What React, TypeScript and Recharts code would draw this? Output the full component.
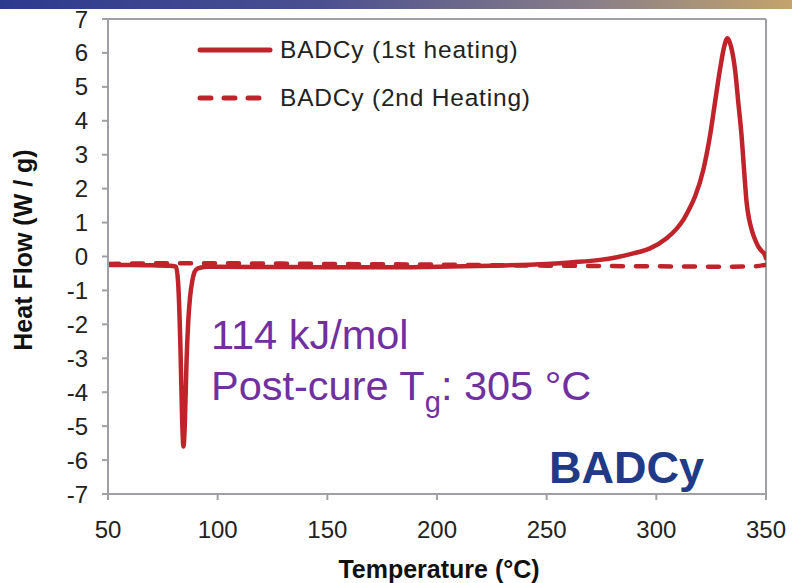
import { Line, LineChart, ReferenceLine, XAxis, YAxis } from "recharts";

const temps1 = [
  50, 60, 70, 78, 81, 82, 83, 83.8, 84.4, 85, 85.8, 86.6, 87.4, 88.5, 89.5, 91,
  95, 100, 125, 150, 175, 200, 225, 250, 262, 274.3, 282, 289.5, 297.1, 304.7,
  309, 312.3, 315, 317.6, 321.4, 324.4, 326.7, 329, 331, 332.4, 334, 335.9,
  337.4, 338.9, 340, 341.2, 342.3, 343.5, 345, 346.5, 348, 349.1, 350,
];
const heat1 = [
  -0.25, -0.25, -0.26, -0.27, -0.3, -0.8, -2.6, -4.8, -5.6, -5.0, -3.1, -1.9,
  -1.2, -0.7, -0.45, -0.35, -0.3, -0.3, -0.31, -0.32, -0.32, -0.3, -0.27, -0.22,
  -0.17, -0.1, -0.02, 0.09, 0.24, 0.54, 0.8, 1.08, 1.4, 1.76, 2.55, 3.53, 4.52,
  5.5, 6.2, 6.43, 6.2, 5.5, 4.52, 3.53, 2.55, 1.57, 1.1, 0.78, 0.5, 0.29, 0.16,
  0.09, -0.05,
];

const temps2 = [50, 75, 100, 150, 200, 250, 300, 330, 345, 350];
const heat2 = [-0.22, -0.2, -0.2, -0.22, -0.24, -0.27, -0.29, -0.3, -0.29, -0.24];

const xTicks = [50, 100, 150, 200, 250, 300, 350];
const yTicks = [-7, -6, -5, -4, -3, -2, -1, 0, 1, 2, 3, 4, 5, 6, 7];

const series = [
  { name: "BADCy (1st heating)", dash: undefined },
  { name: "BADCy (2nd Heating)", dash: "11 13" },
];

const RED = "#c1232b";
const AXIS = "#a0a0a4";
const FONT = '"Liberation Sans", Arial, sans-serif';

const first = temps1.map((t, i) => ({ temp: t, heat: heat1[i] }));
const second = temps2.map((t, i) => ({ temp: t, heat: heat2[i] }));

// legend drawn as html so the chart does not reserve room for it
const LegendBox = () => (
  <div
    style={{
      position: "absolute",
      left: 196,
      top: 38,
      fontSize: 24.5,
      color: "#222",
    }}
  >
    {series.map((s, i) => (
      <div
        key={s.name}
        style={{ display: "flex", alignItems: "center", height: 24, marginBottom: i === 0 ? 24 : 0 }}
      >
        <svg width={80} height={12} style={{ marginRight: 4 }}>
          <line
            x1={4}
            y1={6}
            x2={74}
            y2={6}
            stroke={RED}
            strokeWidth={5}
            strokeLinecap="round"
            strokeDasharray={s.dash}
          />
        </svg>
        <span style={{ letterSpacing: 0.8 }}>{s.name}</span>
      </div>
    ))}
  </div>
);

export default function App() {
  return (
    <div
      style={{
        position: "absolute",
        left: 0,
        top: 0,
        width: 792,
        height: 583,
        background: "#fff",
        overflow: "hidden",
        fontFamily: FONT,
      }}
    >
      <div
        style={{
          position: "absolute",
          left: 0,
          top: 0,
          width: 792,
          height: 9,
          background: "linear-gradient(to right, #2c3a8e 0%, #4a4f90 40%, #8a7f88 75%, #c4a46c 100%)",
        }}
      />
      <LineChart
        width={792}
        height={583}
        margin={{ top: 19, right: 26, bottom: 29, left: 48 }}
      >
        <XAxis
          type="number"
          dataKey="temp"
          domain={[50, 350]}
          ticks={xTicks}
          interval={0}
          allowDataOverflow
          height={60}
          stroke={AXIS}
          strokeWidth={2}
          tickSize={6}
          tickMargin={21}
          tick={{ fill: "#222", fontSize: 24, fontFamily: FONT }}
        />
        <YAxis
          type="number"
          domain={[-7, 7]}
          ticks={yTicks}
          interval={0}
          allowDataOverflow
          width={60}
          stroke={AXIS}
          strokeWidth={2}
          tickSize={6}
          tickMargin={14}
          tick={{ fill: "#222", fontSize: 24, fontFamily: FONT }}
        />
        <ReferenceLine y={7} stroke={AXIS} strokeWidth={2} />
        <ReferenceLine x={350} stroke={AXIS} strokeWidth={2} />
        <Line
          data={second}
          dataKey="heat"
          name={series[1].name}
          type="monotone"
          stroke={RED}
          strokeWidth={4.5}
          strokeDasharray="11 13"
          strokeLinecap="round"
          dot={false}
          isAnimationActive={false}
        />
        <Line
          data={first}
          dataKey="heat"
          name={series[0].name}
          type="monotone"
          stroke={RED}
          strokeWidth={4.5}
          strokeLinecap="round"
          dot={false}
          isAnimationActive={false}
        />
      </LineChart>
      <LegendBox />
      <div
        style={{
          position: "absolute",
          left: 23,
          top: 250,
          transform: "translate(-50%, -50%) rotate(-90deg)",
          whiteSpace: "nowrap",
          fontSize: 25,
          fontWeight: "bold",
          color: "#111",
          lineHeight: 1,
        }}
      >
        Heat Flow (W / g)
      </div>
      <div
        style={{
          position: "absolute",
          left: 439,
          top: 557,
          transform: "translateX(-50%)",
          whiteSpace: "nowrap",
          fontSize: 25,
          fontWeight: "bold",
          color: "#111",
          lineHeight: 1,
        }}
      >
        Temperature (°C)
      </div>
      <div
        style={{
          position: "absolute",
          left: 211,
          top: 314,
          fontSize: 41.5,
          color: "#7030a0",
          lineHeight: 1,
          whiteSpace: "nowrap",
        }}
      >
        114 kJ/mol
      </div>
      <div
        style={{
          position: "absolute",
          left: 211,
          top: 365,
          fontSize: 41.5,
          color: "#7030a0",
          lineHeight: 1,
          whiteSpace: "nowrap",
        }}
      >
        Post-cure T<sub style={{ fontSize: 29, verticalAlign: -12 }}>g</sub>: 305 °C
      </div>
      <div
        style={{
          position: "absolute",
          left: 549,
          top: 445,
          fontSize: 45,
          fontWeight: "bold",
          color: "#213a87",
          lineHeight: 1,
        }}
      >
        BADCy
      </div>
    </div>
  );
}
